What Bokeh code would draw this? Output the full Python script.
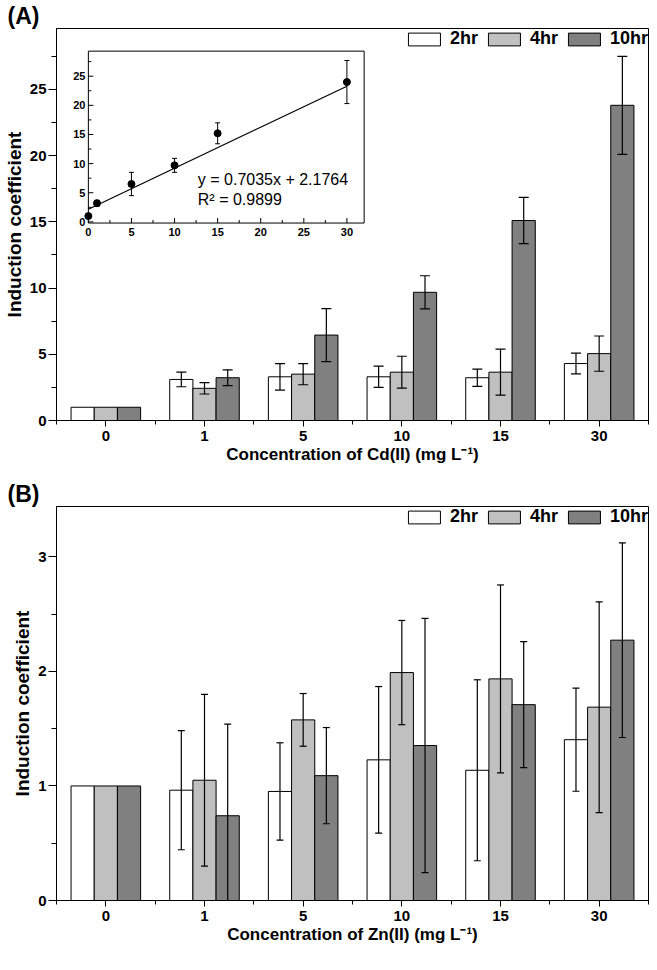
import numpy as np
from bokeh.plotting import figure
from bokeh.models import (ColumnDataSource, Range1d, FixedTicker, SingleIntervalTicker,
                          Whisker, TeeHead, Legend, LegendItem)
from bokeh.transform import dodge
from bokeh.layouts import column
from bokeh.embed import file_html
from bokeh.resources import INLINE
from bokeh.core.properties import value

# ---------------- data ----------------
categories = ["0", "1", "5", "10", "15", "30"]
series_names = ["2hr", "4hr", "10hr"]

# Panel A: Cd(II)
cd_2hr = [1.0, 3.10, 3.30, 3.30, 3.23, 4.30]
cd_2hr_err = [0.0, 0.55, 1.00, 0.80, 0.65, 0.78]
cd_4hr = [1.0, 2.43, 3.50, 3.65, 3.65, 5.05]
cd_4hr_err = [0.0, 0.43, 0.80, 1.20, 1.74, 1.33]
cd_10hr = [1.0, 3.23, 6.45, 9.68, 15.10, 23.80]
cd_10hr_err = [0.0, 0.60, 2.00, 1.25, 1.75, 3.70]

# Inset (10hr vs concentration) and linear fit
inset_conc = [0, 1, 5, 10, 15, 30]
inset_vals = [1.0, 3.2, 6.5, 9.7, 15.2, 24.0]
inset_err = [0.0, 0.5, 2.0, 1.2, 1.8, 3.7]
fit_slope = 0.7035
fit_intercept = 2.1764
fit_r2 = 0.9899
inset_yticks = [0, 5, 10, 15, 20, 25]
inset_xticks = [0, 5, 10, 15, 20, 25, 30]

# Panel B: Zn(II)
zn_2hr = [1.0, 0.963, 0.952, 1.228, 1.137, 1.404]
zn_2hr_err = [0.0, 0.52, 0.425, 0.64, 0.79, 0.45]
zn_4hr = [1.0, 1.05, 1.577, 1.99, 1.935, 1.688]
zn_4hr_err = [0.0, 0.75, 0.23, 0.455, 0.82, 0.92]
zn_10hr = [1.0, 0.74, 1.09, 1.353, 1.71, 2.273]
zn_10hr_err = [0.0, 0.80, 0.42, 1.11, 0.55, 0.85]

# ---------------- style ----------------
FONT = "Liberation Sans"
COLORS = ["#FFFFFF", "#C0C0C0", "#808080"]
OFFSETS = [-0.235, 0.0, 0.235]
BAR_W = 0.235


def make_panel(panel_label, vals, errs, xlabel, y_end, y_interval, height,
               border_top, cap_size):
    x_idx = list(range(len(categories)))
    p = figure(width=649, height=height, x_range=Range1d(-0.5, 5.5),
               y_range=Range1d(0, y_end), output_backend="svg",
               toolbar_location=None, min_border_left=49, min_border_right=1,
               min_border_top=border_top, min_border_bottom=30)
    p.xgrid.visible = False
    p.ygrid.visible = False
    p.outline_line_color = "black"
    p.outline_line_alpha = 1.0
    p.outline_line_width = 1

    renderers = []
    for name, color, v, e, off in zip(series_names, COLORS, vals, errs, OFFSETS):
        src = ColumnDataSource(dict(x=x_idx, top=v))
        r = p.vbar(x=dodge("x", off, range=p.x_range), top="top", width=BAR_W,
                   source=src, fill_color=color, line_color="black", line_width=1)
        renderers.append(r)
        keep = [i for i in x_idx if e[i] > 0]
        wsrc = ColumnDataSource(dict(
            x=[i for i in keep],
            lower=[max(0.0, v[i] - e[i]) for i in keep],
            upper=[v[i] + e[i] for i in keep]))
        w = Whisker(base=dodge("x", off, range=p.x_range), lower="lower", upper="upper",
                    source=wsrc, line_color="black", line_width=1.2, level="annotation",
                    upper_head=TeeHead(size=cap_size, line_color="black", line_width=1.2),
                    lower_head=TeeHead(size=cap_size, line_color="black", line_width=1.2))
        p.add_layout(w)

    legend = Legend(items=[LegendItem(label=n, renderers=[r]) for n, r in zip(series_names, renderers)],
                    orientation="horizontal", location="top_right",
                    glyph_width=40, glyph_height=16, label_standoff=6, spacing=6,
                    padding=2, margin=0, border_line_color=None,
                    background_fill_alpha=0.0,
                    label_text_font=FONT, label_text_font_style="bold",
                    label_text_font_size="18px", label_text_color="black")
    p.add_layout(legend)

    # x axis
    xa = p.xaxis[0]
    xa.ticker = FixedTicker(ticks=x_idx, minor_ticks=[i - 0.5 for i in range(len(categories) + 1)])
    xa.major_label_overrides = {i: c for i, c in enumerate(categories)}
    xa.major_tick_in = 0
    xa.major_tick_out = 6
    xa.minor_tick_in = 0
    xa.minor_tick_out = 4
    xa.axis_line_color = "black"
    xa.major_tick_line_color = "black"
    xa.minor_tick_line_color = "black"
    xa.major_label_text_font = FONT
    xa.major_label_text_font_style = "bold"
    xa.major_label_text_font_size = "15px"
    xa.major_label_text_color = "black"
    xa.major_label_standoff = 4
    xa.axis_label = xlabel
    xa.axis_label_text_font = FONT
    xa.axis_label_text_font_style = "bold"
    xa.axis_label_text_font_size = "17px"
    xa.axis_label_text_color = "black"
    xa.axis_label_standoff = 1

    # y axis
    ya = p.yaxis[0]
    ya.ticker = SingleIntervalTicker(interval=y_interval, num_minor_ticks=2)
    ya.major_tick_in = 0
    ya.major_tick_out = 8
    ya.minor_tick_in = 0
    ya.minor_tick_out = 5
    ya.axis_line_color = "black"
    ya.major_tick_line_color = "black"
    ya.minor_tick_line_color = "black"
    ya.major_label_text_font = FONT
    ya.major_label_text_font_style = "bold"
    ya.major_label_text_font_size = "15px"
    ya.major_label_text_color = "black"
    ya.major_label_standoff = 2
    ya.axis_label = "Induction coefficient"
    ya.axis_label_text_font = FONT
    ya.axis_label_text_font_style = "bold"
    ya.axis_label_text_font_size = "19px"
    ya.axis_label_text_color = "black"
    ya.axis_label_standoff = 2

    # panel label "(A)" / "(B)" at the top-left corner
    p.title.text = panel_label
    p.title.align = "left"
    p.title.offset = -49
    p.title.standoff = 0
    p.title.text_font = FONT
    p.title.text_font_style = "bold"
    p.title.text_font_size = "23px"
    p.title.text_color = "black"
    return p


pA = make_panel("(A)", [cd_2hr, cd_4hr, cd_10hr], [cd_2hr_err, cd_4hr_err, cd_10hr_err],
                "Concentration of Cd(II) (mg L\u207b\u00b9)", 29.6, 5, 466, 10, 10)
pB = make_panel("(B)", [zn_2hr, zn_4hr, zn_10hr], [zn_2hr_err, zn_4hr_err, zn_10hr_err],
                "Concentration of Zn(II) (mg L\u207b\u00b9)", 3.44, 1, 480, 40, 7)

# ---------------- inset in panel A ----------------
ins_x = Range1d(0, 32)
ins_y = Range1d(-0.2, 29.3)
sub = pA.subplot(x_source=ins_x, y_source=ins_y,
                 x_target=Range1d(-0.177, 2.618), y_target=Range1d(14.91, 27.89))

sub.quad(left=ins_x.start, right=ins_x.end, bottom=ins_y.start, top=ins_y.end,
         fill_color="white", line_color="black", line_width=1)

# inset ticks (inward) and labels
y_minor = [t + 2.5 for t in inset_yticks]
x_minor = [t + 2.5 for t in inset_xticks[:-1]]
sub.ray(x=[ins_x.start] * len(inset_yticks), y=inset_yticks, length=5, length_units="screen",
        angle=0, line_color="black", line_width=1)
sub.ray(x=[ins_x.start] * len(y_minor), y=y_minor, length=3, length_units="screen",
        angle=0, line_color="black", line_width=1)
sub.ray(x=inset_xticks, y=[ins_y.start] * len(inset_xticks), length=5, length_units="screen",
        angle=np.pi / 2, line_color="black", line_width=1)
sub.ray(x=x_minor, y=[ins_y.start] * len(x_minor), length=3, length_units="screen",
        angle=np.pi / 2, line_color="black", line_width=1)
sub.text(x=[ins_x.start] * len(inset_yticks), y=inset_yticks, text=[str(t) for t in inset_yticks],
         x_offset=-3, text_align="right", text_baseline="middle",
         text_font=value(FONT), text_font_size=value("11px"), text_font_style="bold",
         text_color="black")
sub.text(x=inset_xticks, y=[ins_y.start] * len(inset_xticks), text=[str(t) for t in inset_xticks],
         y_offset=5, text_align="center", text_baseline="top",
         text_font=value(FONT), text_font_size=value("11px"), text_font_style="bold",
         text_color="black")

# fit line
fit_x = [inset_conc[0], inset_conc[-1]]
fit_y = [fit_slope * xv + fit_intercept for xv in fit_x]
sub.line(fit_x, fit_y, line_color="black", line_width=1.2)

# inset error bars and points
ekeep = [i for i in range(len(inset_conc)) if inset_err[i] > 0]
ex = [inset_conc[i] for i in ekeep]
elo = [inset_vals[i] - inset_err[i] for i in ekeep]
ehi = [inset_vals[i] + inset_err[i] for i in ekeep]
sub.segment(x0=ex, y0=elo, x1=ex, y1=ehi, line_color="black", line_width=1)
sub.scatter(x=ex + ex, y=elo + ehi, marker="dash", size=5, line_color="black", line_width=1)
sub.scatter(x=inset_conc, y=inset_vals, marker="circle", size=7, fill_color="black",
            line_color="black")

# equation
sub.text(x=[12.7, 12.7], y=[7.2, 3.9],
         text=[f"y = {fit_slope}x + {fit_intercept}", f"R\u00b2 = {fit_r2}"],
         text_align="left", text_baseline="middle",
         text_font=value(FONT), text_font_size=value("16px"), text_color="black")

layout = column(pA, pB)
open("out.html", "w").write(file_html(layout, INLINE))
